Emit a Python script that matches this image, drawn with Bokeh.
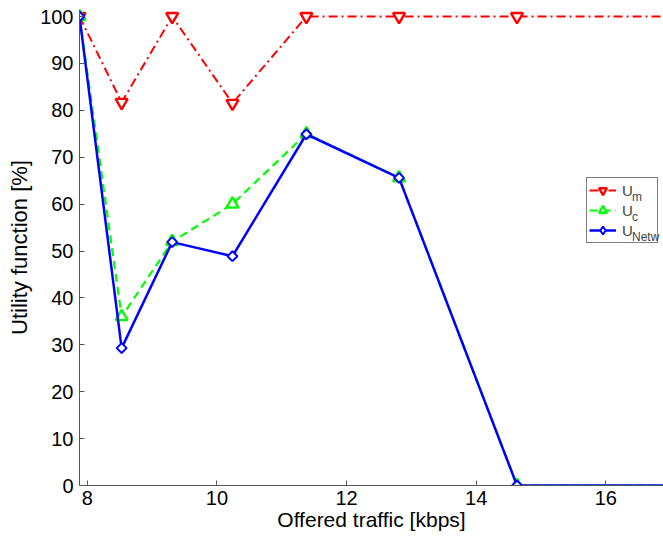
from bokeh.plotting import figure
from bokeh.models import Legend, LegendItem, FixedTicker, Range1d, CDSView, IndexFilter
from bokeh.embed import file_html
from bokeh.resources import INLINE
import numpy as np

# ---- data ----
traffic = [7.88, 8.53, 9.31, 10.24, 11.38, 12.81, 14.63, 17.5]
u_m = [100, 81.7, 100, 81.5, 100, 100, 100, 100]
u_c = [100, 36.0, 52.0, 60.0, 75.0, 65.6, 0, 0]
u_netw = [100, 29.3, 51.9, 48.9, 74.9, 65.6, 0, 0]
x_ticks = [8, 10, 12, 14, 16]
y_ticks = [0, 10, 20, 30, 40, 50, 60, 70, 80, 90, 100]
legend_base = ["U", "U", "U"]
legend_subs = ["m", "c", "Netw"]

FONT = "Liberation Sans"

p = figure(width=663, height=538, output_backend="svg", toolbar_location=None,
           x_range=Range1d(7.88, 16.89), y_range=Range1d(0, 101.5),
           min_border_left=79, min_border_right=0, min_border_top=9, min_border_bottom=53)
p.outline_line_color = None
p.grid.visible = False
p.background_fill_color = "white"

r1 = p.line(traffic, u_m, line_color="#FF0000", line_width=2, line_dash="9 4 2 4")
s1 = p.scatter(traffic, u_m, marker="inverted_triangle", size=12, line_color="#FF0000",
               line_width=2.4, fill_color="white")
r2 = p.line(traffic, u_c, line_color="#00FF00", line_width=2.2, line_dash="8 5")
s2 = p.scatter(traffic, u_c, marker="triangle", size=12, line_color="#00FF00",
               line_width=2.4, fill_color="white")
r3 = p.line(traffic, u_netw, line_color="#0000FF", line_width=2.5)
# diamond swatch for the legend (only the first point, hidden under the real marker)
s3_leg = p.scatter(traffic, u_netw, marker="diamond", size=10, line_color="#0000FF",
                   line_width=2, fill_color="white", view=CDSView(filter=IndexFilter([0])))
s3 = p.scatter(traffic, u_netw, marker="square", angle=np.pi / 4, size=7, line_color="#0000FF",
               line_width=2, fill_color="white")

for ax in (p.xaxis[0], p.yaxis[0]):
    ax.axis_line_color = "#555555"
    ax.major_tick_line_color = "#555555"
    ax.major_tick_in = 5
    ax.major_tick_out = 0
    ax.minor_tick_line_color = None
    ax.major_label_text_font = FONT
    ax.major_label_text_font_size = "20px"
    ax.major_label_text_color = "black"
    ax.axis_label_text_font = FONT
    ax.axis_label_text_font_style = "normal"
    ax.axis_label_text_color = "black"

p.xaxis.axis_label_text_font_size = "21px"
p.yaxis.axis_label_text_font_size = "22px"
p.xaxis.ticker = FixedTicker(ticks=x_ticks)
p.yaxis.ticker = FixedTicker(ticks=y_ticks)
p.xaxis.axis_label = "Offered traffic [kbps]"
p.yaxis.axis_label = "Utility function [%]"
p.xaxis.major_label_standoff = 5
p.xaxis.axis_label_standoff = 0
p.yaxis.major_label_standoff = 6
p.yaxis.axis_label_standoff = 5

pairs = [(r1, s1), (r2, s2), (r3, s3_leg)]

# main legend (glyphs + "U")
LX, LY = 507, 242
PAD, GW, GH, SP, LS, LW = 2, 27, 20, 0, 6, 33
legend = Legend(items=[LegendItem(label=lab, renderers=list(rr))
                       for lab, rr in zip(legend_base, pairs)], location=(LX, LY))
legend.border_line_color = "black"
legend.border_line_width = 1
legend.background_fill_color = "white"
legend.background_fill_alpha = 1
legend.label_text_font = FONT
legend.label_text_font_size = "15px"
legend.glyph_width = GW
legend.glyph_height = GH
legend.spacing = SP
legend.padding = PAD
legend.margin = 0
legend.label_standoff = LS
legend.label_width = LW
legend.label_height = GH
p.add_layout(legend, "center")

# subscripts, drawn as a second, transparent legend over the first
sub_legend = Legend(items=[LegendItem(label=lab, renderers=list(rr))
                           for lab, rr in zip(legend_subs, pairs)],
                    location=(LX + PAD + GW + LS + 11, LY + PAD - 6))
sub_legend.border_line_color = None
sub_legend.background_fill_alpha = 0
sub_legend.label_text_font = FONT
sub_legend.label_text_font_size = "12px"
sub_legend.glyph_width = 0
sub_legend.glyph_height = GH
sub_legend.spacing = SP
sub_legend.padding = 0
sub_legend.margin = 0
sub_legend.label_standoff = 0
sub_legend.label_width = 10
sub_legend.label_height = GH
p.add_layout(sub_legend, "center")

open("out.html", "w").write(file_html(p, INLINE))
